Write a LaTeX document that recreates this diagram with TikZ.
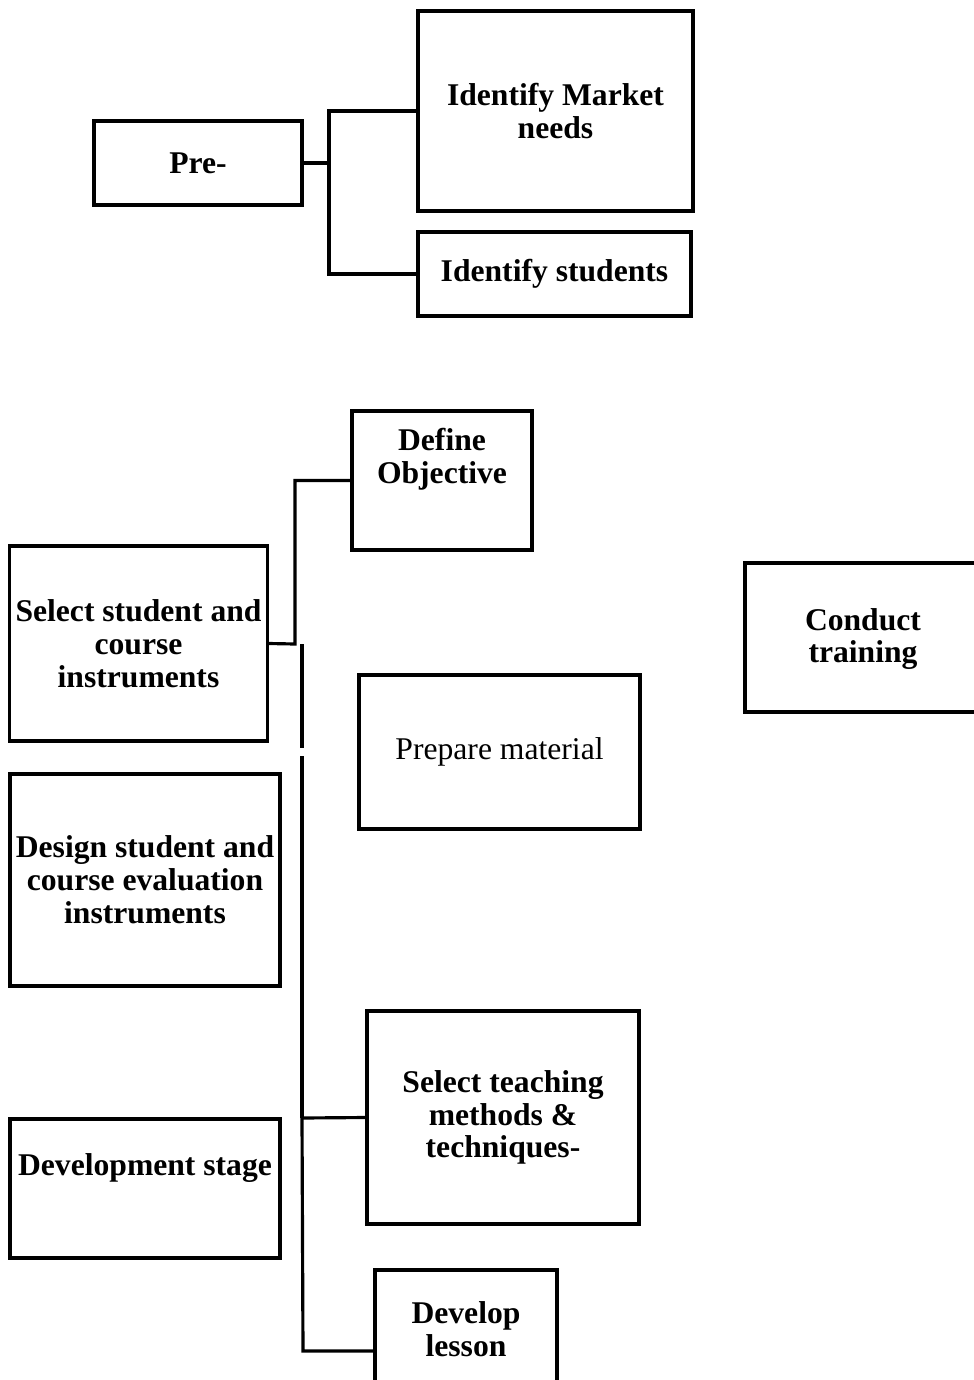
\documentclass[tikz,border=0pt]{standalone}
\usepackage{fontspec}
\setmainfont{Liberation Serif}

\begin{document}
\begin{tikzpicture}[x=0.02cm,y=-0.02cm,line width=1.8pt]

\tikzstyle{box}=[shape=rectangle, draw, align=center,
    font=\fontsize{18}{18.7}\selectfont\bfseries]
\tikzstyle{plainbox}=[shape=rectangle, draw, align=center,
    font=\fontsize{18}{18.7}\selectfont]
\tikzstyle{txt}=[align=center, font=\fontsize{18}{18.7}\selectfont\bfseries]

  \clip (0,0) rectangle (974,1380);
  \useasboundingbox (0,0) rectangle (974,1380);

  % pre stage
  \node[box, minimum width=4.16cm, minimum height=1.68cm] (pre) at (198,163) {Pre-};
  \node[box, minimum width=5.5cm, minimum height=4cm] (market) at (555.5,111) {Identify Market\\needs};
  \node[box, minimum width=5.46cm, minimum height=1.68cm] (students) at (554.5,274) {Identify students};

  \coordinate (preJ) at (329,163);
  \draw (pre.east) -- (preJ) |- (market.west);
  \draw (preJ) |- (students.west);

  % development stage
  \node[box, minimum width=3.6cm, minimum height=2.78cm] (objective) at (442,480.5) {};
  \node[txt] (objectiveT) at (442,459) {Define\\Objective};
  \node[box, minimum width=5.14cm, minimum height=3.9cm] (select) at (138.5,643.5) {Select student and\\course\\instruments};
  \node[plainbox, minimum width=5.62cm, minimum height=3.08cm] (prepare) at (499.5,752) {Prepare material};
  \node[box, minimum width=5.4cm, minimum height=4.24cm] (design) at (145,880) {Design student and\\course evaluation\\instruments};
  \node[box, minimum width=5.44cm, minimum height=4.26cm] (teaching) at (503,1117.5) {Select teaching\\methods \&\\techniques-};
  \node[box, minimum width=5.4cm, minimum height=2.78cm] (devstage) at (145,1188.5) {};
  \node[txt] (devstageT) at (145,1168) {Development stage};
  \node[box, minimum width=3.64cm, minimum height=2.4cm] (lesson) at (466,1330) {};
  \node[txt] (lessonT) at (466,1329) {Develop\\lesson};
  \node[box, minimum width=4.9cm, minimum height=2.98cm] (conduct) at (867.5,637.5) {};
  \node[txt] (conductT) at (863,639) {Conduct\\training};

  \coordinate (selJ) at (295,644);
  \draw (select.east) -- (selJ) |- (objective.west);

  \coordinate (barA) at (302,644);
  \coordinate (barB) at (302,748);
  \coordinate (barC) at (302,756);
  \coordinate (teachJ) at (302,1118);
  \coordinate (lessonJ) at (303,1351);
  \draw[line width=2.8pt] (barA) -- (barB);
  \draw[line width=2.8pt] (barC) -- (teachJ);
  \draw (teachJ) -- (teaching.west);
  \draw (teachJ) -- (lessonJ) -- (lessonJ -| lesson.west);

\end{tikzpicture}
\end{document}
